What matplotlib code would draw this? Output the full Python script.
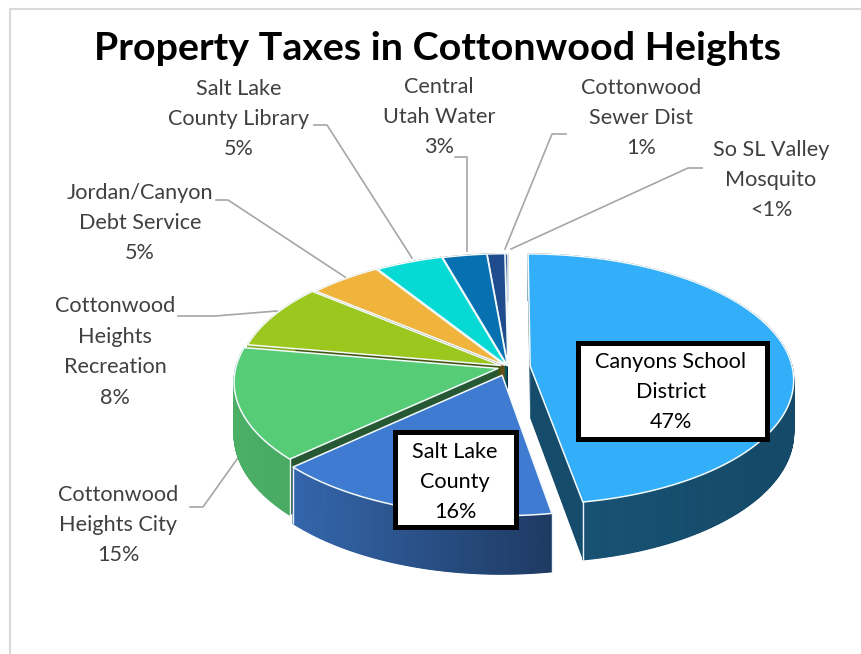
import numpy as np
import matplotlib
matplotlib.use("Agg")
import matplotlib.pyplot as plt
from matplotlib.patches import Polygon, Rectangle

TITLE = "Property Taxes in Cottonwood Heights"
names = ["Canyons School\nDistrict", "Salt Lake\nCounty", "Cottonwood\nHeights City",
         "Cottonwood\nHeights\nRecreation", "Jordan/Canyon\nDebt Service",
         "Salt Lake\nCounty Library", "Central\nUtah Water", "Cottonwood\nSewer Dist",
         "So SL Valley\nMosquito"]
values = [47.3, 15.9, 14.6, 8.3, 5.0, 4.6, 3.0, 1.2, 0.2]
pct_labels = ["47%", "16%", "15%", "8%", "5%", "5%", "3%", "1%", "<1%"]
colors = ["#32AFF8", "#3F7BD0", "#57CC77", "#9CC71F", "#F0B43C",
          "#07D9D5", "#0670B0", "#1E4C8C", "#4060A0"]
explode = [0.085, 0.07, 0.04, 0.03, 0.02, 0.015, 0.01, 0.01, 0.01]
label_pos = [(671, 392), (455, 482), (118, 525), (115, 352), (140, 223),
             (239, 119), (439, 117), (641, 118), (771, 180)]
leaders = [None, None,
           [(190, 507), (203, 507), (240, 455)],
           [(178, 316), (215, 316), (277, 311)],
           [(216, 200), (228, 200), (345, 277)],
           [(314, 125), (327, 125), (412, 258)],
           [(455, 157), (467, 157), (467, 251)],
           [(566, 134), (552, 134), (505, 249)],
           [(702, 168), (688, 168), (511, 249)]]
boxes = {0: (575, 340, 769, 441), 1: (392, 429, 518, 529)}

CX, CY, RX, RY, K, DEPTH = 508, 367, 262, 124, 0.104, 52

plt.rcParams["font.family"] = ["Lato", "DejaVu Sans"]
fig = plt.figure(figsize=(8.61, 6.54), dpi=100)
ax = fig.add_axes([0, 0, 1, 1])
ax.set_xlim(0, 861)
ax.set_ylim(654, 0)
ax.axis("off")

# chart frame
ax.plot([10, 10, 861], [654, 9, 9], color="#D9D9D9", lw=1.5, zorder=0)


def project(u, v, down=0.0):
    w = 1 + K * v
    return CX + RX * u / w, CY - RY * v / w + down / w


def shade(hex_color, f):
    rgb = np.array(matplotlib.colors.to_rgb(hex_color))
    return tuple(np.clip(rgb * f, 0, 1))


total = sum(values)
edges = np.concatenate([[0], np.cumsum(values)]) / total * 2 * np.pi
z = 2
order = sorted(range(len(values)),
               key=lambda i: np.cos((edges[i] + edges[i + 1]) / 2))[::-1]
for i in order:
    a0, a1 = edges[i], edges[i + 1]
    mid = (a0 + a1) / 2
    u0, v0 = explode[i] * np.sin(mid), explode[i] * np.cos(mid)
    ts = np.linspace(a0, a1, max(4, int((a1 - a0) * 150)))
    us, vs = u0 + np.sin(ts), v0 + np.cos(ts)
    # radial walls
    for a in (a0, a1):
        ue, ve = u0 + np.sin(a), v0 + np.cos(a)
        pts = [project(u0, v0), project(ue, ve), project(ue, ve, DEPTH), project(u0, v0, DEPTH)]
        ax.add_patch(Polygon(pts, closed=True, facecolor=shade(colors[i], 0.43),
                             edgecolor="none", zorder=z))
    # outer wall, shaded strip by strip
    for j in range(len(ts) - 1):
        um = (us[j] + us[j + 1]) / 2
        f = np.interp(um, [-1, -0.75, 0.15, 1], [0.86, 0.83, 0.47, 0.42])
        pts = [project(us[j], vs[j]), project(us[j + 1], vs[j + 1]),
               project(us[j + 1], vs[j + 1], DEPTH), project(us[j], vs[j], DEPTH)]
        c = shade(colors[i], f)
        ax.add_patch(Polygon(pts, closed=True, facecolor=c, edgecolor=c, lw=0.8, zorder=z))
    # edge of the corner walls
    for a in (a0, a1):
        ue, ve = u0 + np.sin(a), v0 + np.cos(a)
        if ve < 0:
            p, q = project(ue, ve), project(ue, ve, DEPTH)
            ax.plot([p[0], q[0]], [p[1], q[1]], color="#E8F2F8", lw=1.0, zorder=z)
    # top face
    top = [project(u0, v0)] + [project(a, b) for a, b in zip(us, vs)]
    ax.add_patch(Polygon(top, closed=True, facecolor=colors[i], edgecolor="#F4FAFC",
                         lw=1.1, joinstyle="round", zorder=z))
    z += 1

# labels and leader lines
for i, (nm, pc) in enumerate(zip(names, pct_labels)):
    x, y = label_pos[i]
    if i in boxes:
        x0, y0, x1, y1 = boxes[i]
        ax.add_patch(Rectangle((x0 + 2.5, y0 + 2.5), x1 - x0 - 5, y1 - y0 - 5,
                               facecolor="white", edgecolor="black", lw=3.6, zorder=50))
    if leaders[i]:
        xs, ys = zip(*leaders[i])
        ax.plot(xs, ys, color="#A6A6A6", lw=1.2, zorder=1)
    ax.text(x, y, nm + "\n" + pc, ha="center", va="center", fontsize=15.6,
            linespacing=1.65, color="black" if i in boxes else "#404040", zorder=51)

ax.text(437, 49, TITLE, ha="center", va="center", fontsize=28.4,
        fontweight="bold", color="black", zorder=51)

fig.savefig("out.png", dpi=100)
